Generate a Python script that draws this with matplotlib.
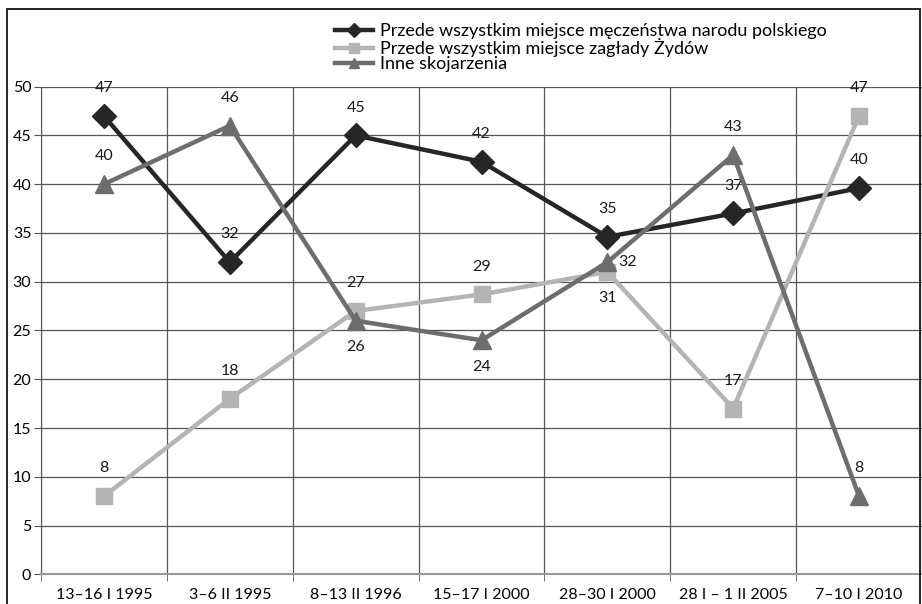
import matplotlib
matplotlib.use("Agg")
import matplotlib.pyplot as plt
from matplotlib.patches import Rectangle

plt.rcParams['font.family'] = ['Lato', 'DejaVu Sans']

categories = ["13–16 I 1995", "3–6 II 1995", "8–13 II 1996", "15–17 I 2000",
              "28–30 I 2000", "28 I – 1 II 2005", "7–10 I 2010"]
martyrdom = [47, 32, 45, 42.3, 34.6, 37, 39.6]
holocaust = [8, 18, 27, 28.7, 31, 17, 47]
other = [40, 46, 26, 24, 32, 43, 8]

names = ["Przede wszystkim miejsce męczeństwa narodu polskiego",
         "Przede wszystkim miejsce zagłady Żydów",
         "Inne skojarzenia"]

# where each value label goes: a = above, b = below, r = right
pos_martyrdom = ["a", "a", "a", "a", "a", "a", "a"]
pos_holocaust = ["a", "a", "a", "a", "b", "a", "a"]
pos_other = ["a", "a", "b", "b", "r", "a", "a"]

fig = plt.figure(figsize=(9.22, 6.04), dpi=100)
ax = fig.add_axes([41/922, 1 - 574.3/604, 881/922, (574.3 - 86.7)/604])

# frame round the whole chart
fig.patches.append(Rectangle((7/922, -0.1), 0.99, 1 - 9/604 + 0.1, transform=fig.transFigure,
                             fill=False, edgecolor="#111111", linewidth=1.3))

x = list(range(len(categories)))
series = [
    (martyrdom, "#262626", "D", 12, pos_martyrdom),
    (holocaust, "#b4b4b4", "s", 12, pos_holocaust),
    (other, "#6d6d6d", "^", 13, pos_other),
]
for (vals, col, mk, ms, pos), name in zip(series, names):
    ax.plot(x, vals, color=col, lw=3.2, marker=mk, markersize=ms, label=name, zorder=3)
    for xi, v, p in zip(x, vals, pos):
        if p == "a":
            ax.annotate("%.0f" % v, (xi, v), xytext=(0, 15), textcoords="offset points",
                        ha="center", va="bottom", fontsize=11.5, color="#1a1a1a")
        elif p == "b":
            ax.annotate("%.0f" % v, (xi, v), xytext=(0, -14), textcoords="offset points",
                        ha="center", va="top", fontsize=11.5, color="#1a1a1a")
        else:
            ax.annotate("%.0f" % v, (xi, v), xytext=(8, 0), textcoords="offset points",
                        ha="left", va="center", fontsize=11.5, color="#1a1a1a")

ax.set_xlim(-0.5, len(categories) - 0.5)
ax.set_ylim(0, 50)
ax.set_yticks(range(0, 51, 5))
ax.set_xticks(x)
ax.set_xticklabels(categories)
ax.set_xticks([i - 0.5 for i in range(len(categories) + 1)], minor=True)
ax.tick_params(axis="x", which="major", length=0, pad=10, labelsize=11.5)
ax.tick_params(axis="x", which="minor", length=5, color="#555555")
ax.tick_params(axis="y", length=5, color="#555555", labelsize=11.5, pad=2)
ax.grid(True, axis="y", color="#555555", lw=0.9)
ax.grid(True, axis="x", which="minor", color="#555555", lw=0.9)
for s in ["top", "right"]:
    ax.spines[s].set_visible(False)
ax.spines["left"].set_color("#555555")
ax.spines["bottom"].set_color("#999999")
ax.spines["bottom"].set_linewidth(1.5)

fig.legend(loc="upper left", bbox_to_anchor=(326/922, 1 - 14/604), frameon=False,
           fontsize=13, handlelength=2.1, handletextpad=0.4, labelspacing=-0.05,
           borderpad=0, markerscale=0.6)

fig.savefig("out.png", dpi=100)
